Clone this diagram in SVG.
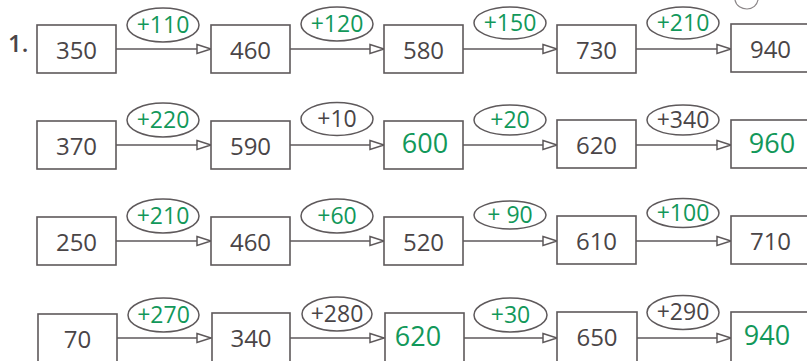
<svg xmlns="http://www.w3.org/2000/svg" width="807" height="361" viewBox="0 0 807 361">
<style>
  .box { fill: #ffffff; stroke: #5e595b; stroke-width: 1.6; }
  .lab { fill: #ffffff; stroke: #5e595b; stroke-width: 1.5; }
  .num { font-family: "Open Sans", "Noto Sans", sans-serif; font-size: 24px; fill: #4a4547; text-anchor: middle; }
  .gnum { font-family: "Open Sans", "Noto Sans", sans-serif; font-size: 27px; fill: #12985a; text-anchor: middle; }
  .op { font-family: "Open Sans", "Noto Sans", sans-serif; font-size: 23px; fill: #4a4547; text-anchor: middle; }
  .gop { font-family: "Open Sans", "Noto Sans", sans-serif; font-size: 23px; fill: #12985a; text-anchor: middle; }
  .con { stroke: #5e595b; stroke-width: 1.6; fill: none; }
  .head { fill: #ffffff; stroke: #5e595b; stroke-width: 1.5; stroke-linejoin: miter; }
</style>
<defs>
  <marker id="arr" viewBox="0 0 16 12" refX="15" refY="6" markerWidth="16" markerHeight="12" markerUnits="userSpaceOnUse" orient="auto" overflow="visible">
    <path class="head" d="M1,1.5 L15,6 L1,10.5 Z"/>
  </marker>
</defs>
<rect width="807" height="361" fill="#ffffff"/>

<path d="M735,0 C736,6 742,9 747,9 C753,9 757,5 758,0" fill="none" stroke="#8a8587" stroke-width="1.2"/>

<text x="8" y="52" font-family="Open Sans, Noto Sans, sans-serif" font-size="24" font-weight="600" fill="#4a4547">1.</text>

<g id="connectors">
  <line class="con" x1="116" y1="49" x2="211" y2="49" marker-end="url(#arr)"/>
  <line class="con" x1="290" y1="49" x2="384" y2="49" marker-end="url(#arr)"/>
  <line class="con" x1="463" y1="49" x2="557" y2="49" marker-end="url(#arr)"/>
  <line class="con" x1="636" y1="49" x2="731" y2="49" marker-end="url(#arr)"/>

  <line class="con" x1="116" y1="145" x2="211" y2="145" marker-end="url(#arr)"/>
  <line class="con" x1="290" y1="145" x2="384" y2="145" marker-end="url(#arr)"/>
  <line class="con" x1="463" y1="145" x2="557" y2="145" marker-end="url(#arr)"/>
  <line class="con" x1="636" y1="145" x2="731" y2="145" marker-end="url(#arr)"/>

  <line class="con" x1="116" y1="241" x2="211" y2="241" marker-end="url(#arr)"/>
  <line class="con" x1="290" y1="241" x2="384" y2="241" marker-end="url(#arr)"/>
  <line class="con" x1="463" y1="241" x2="557" y2="241" marker-end="url(#arr)"/>
  <line class="con" x1="636" y1="241" x2="731" y2="241" marker-end="url(#arr)"/>

  <line class="con" x1="116" y1="338" x2="211" y2="338" marker-end="url(#arr)"/>
  <line class="con" x1="290" y1="338" x2="384" y2="338" marker-end="url(#arr)"/>
  <line class="con" x1="463" y1="338" x2="557" y2="338" marker-end="url(#arr)"/>
  <line class="con" x1="636" y1="338" x2="731" y2="338" marker-end="url(#arr)"/>
</g>

<!-- Row 1 -->
<g id="r1n1"><rect class="box" x="37" y="25" width="79" height="48"/><text class="num" x="76.5" y="59">350</text></g>
<g id="r1n2"><rect class="box" x="211" y="25" width="79" height="48"/><text class="num" x="250.5" y="59">460</text></g>
<g id="r1n3"><rect class="box" x="384" y="25" width="79" height="48"/><text class="num" x="423.5" y="59">580</text></g>
<g id="r1n4"><rect class="box" x="557" y="25" width="79" height="48"/><text class="num" x="596.5" y="59">730</text></g>
<g id="r1n5"><rect class="box" x="731" y="24" width="100" height="48"/><text class="num" x="770.5" y="58">940</text></g>
<g id="r1e1"><ellipse class="lab" cx="163" cy="25" rx="36" ry="17"/><text class="gop" x="163" y="33">+110</text></g>
<g id="r1e2"><ellipse class="lab" cx="337" cy="24" rx="36" ry="17"/><text class="gop" x="337" y="32">+120</text></g>
<g id="r1e3"><ellipse class="lab" cx="510" cy="23" rx="36" ry="16"/><text class="gop" x="510" y="31">+150</text></g>
<g id="r1e4"><ellipse class="lab" cx="683" cy="23" rx="36" ry="16"/><text class="gop" x="683" y="31">+210</text></g>

<!-- Row 2 -->
<g id="r2n1"><rect class="box" x="37" y="121" width="79" height="48"/><text class="num" x="76.5" y="155">370</text></g>
<g id="r2n2"><rect class="box" x="211" y="121" width="79" height="48"/><text class="num" x="250.5" y="155">590</text></g>
<g id="r2n3"><rect class="box" x="384" y="121" width="79" height="48"/><text class="gnum" x="425" y="153">600</text></g>
<g id="r2n4"><rect class="box" x="557" y="120" width="79" height="48"/><text class="num" x="596.5" y="154">620</text></g>
<g id="r2n5"><rect class="box" x="731" y="120" width="100" height="48"/><text class="gnum" x="772" y="153">960</text></g>
<g id="r2e1"><ellipse class="lab" cx="163" cy="120" rx="36" ry="17"/><text class="gop" x="163" y="128">+220</text></g>
<g id="r2e2"><ellipse class="lab" cx="337" cy="119" rx="36" ry="16.5"/><text class="op" x="337" y="127">+10</text></g>
<g id="r2e3"><ellipse class="lab" cx="510" cy="120" rx="36" ry="15"/><text class="gop" x="510" y="128">+20</text></g>
<g id="r2e4"><ellipse class="lab" cx="683" cy="120" rx="36" ry="15"/><text class="op" x="683" y="128">+340</text></g>

<!-- Row 3 -->
<g id="r3n1"><rect class="box" x="37" y="217" width="79" height="48"/><text class="num" x="76.5" y="251">250</text></g>
<g id="r3n2"><rect class="box" x="211" y="217" width="79" height="48"/><text class="num" x="250.5" y="251">460</text></g>
<g id="r3n3"><rect class="box" x="384" y="217" width="79" height="48"/><text class="num" x="423.5" y="251">520</text></g>
<g id="r3n4"><rect class="box" x="557" y="216" width="79" height="48"/><text class="num" x="596.5" y="250">610</text></g>
<g id="r3n5"><rect class="box" x="731" y="216" width="100" height="48"/><text class="num" x="770.5" y="250">710</text></g>
<g id="r3e1"><ellipse class="lab" cx="163" cy="216" rx="36" ry="17"/><text class="gop" x="163" y="224">+210</text></g>
<g id="r3e2"><ellipse class="lab" cx="337" cy="216" rx="36" ry="17"/><text class="gop" x="337" y="224">+60</text></g>
<g id="r3e3"><ellipse class="lab" cx="510" cy="215" rx="36" ry="14"/><text class="gop" x="510" y="223">+ 90</text></g>
<g id="r3e4"><ellipse class="lab" cx="683" cy="213" rx="36" ry="14.5"/><text class="gop" x="683" y="221">+100</text></g>

<!-- Row 4 -->
<g id="r4n1"><rect class="box" x="38" y="314" width="79" height="52"/><text class="num" x="77.5" y="348">70</text></g>
<g id="r4n2"><rect class="box" x="212" y="313" width="78" height="52"/><text class="num" x="251" y="347">340</text></g>
<g id="r4n3"><rect class="box" x="385" y="313" width="79" height="52"/><text class="gnum" x="418" y="346">620</text></g>
<g id="r4n4"><rect class="box" x="557" y="312" width="80" height="52"/><text class="num" x="597" y="346">650</text></g>
<g id="r4n5"><rect class="box" x="731" y="312" width="100" height="52"/><text class="gnum" x="767" y="345">940</text></g>
<g id="r4e1"><ellipse class="lab" cx="163.5" cy="315" rx="35.5" ry="17"/><text class="gop" x="163.5" y="323">+270</text></g>
<g id="r4e2"><ellipse class="lab" cx="337" cy="314" rx="35" ry="17"/><text class="op" x="337" y="322">+280</text></g>
<g id="r4e3"><ellipse class="lab" cx="510.5" cy="315" rx="36.5" ry="17"/><text class="gop" x="510.5" y="323">+30</text></g>
<g id="r4e4"><ellipse class="lab" cx="683" cy="312.5" rx="36" ry="17"/><text class="op" x="683" y="320">+290</text></g>
</svg>
